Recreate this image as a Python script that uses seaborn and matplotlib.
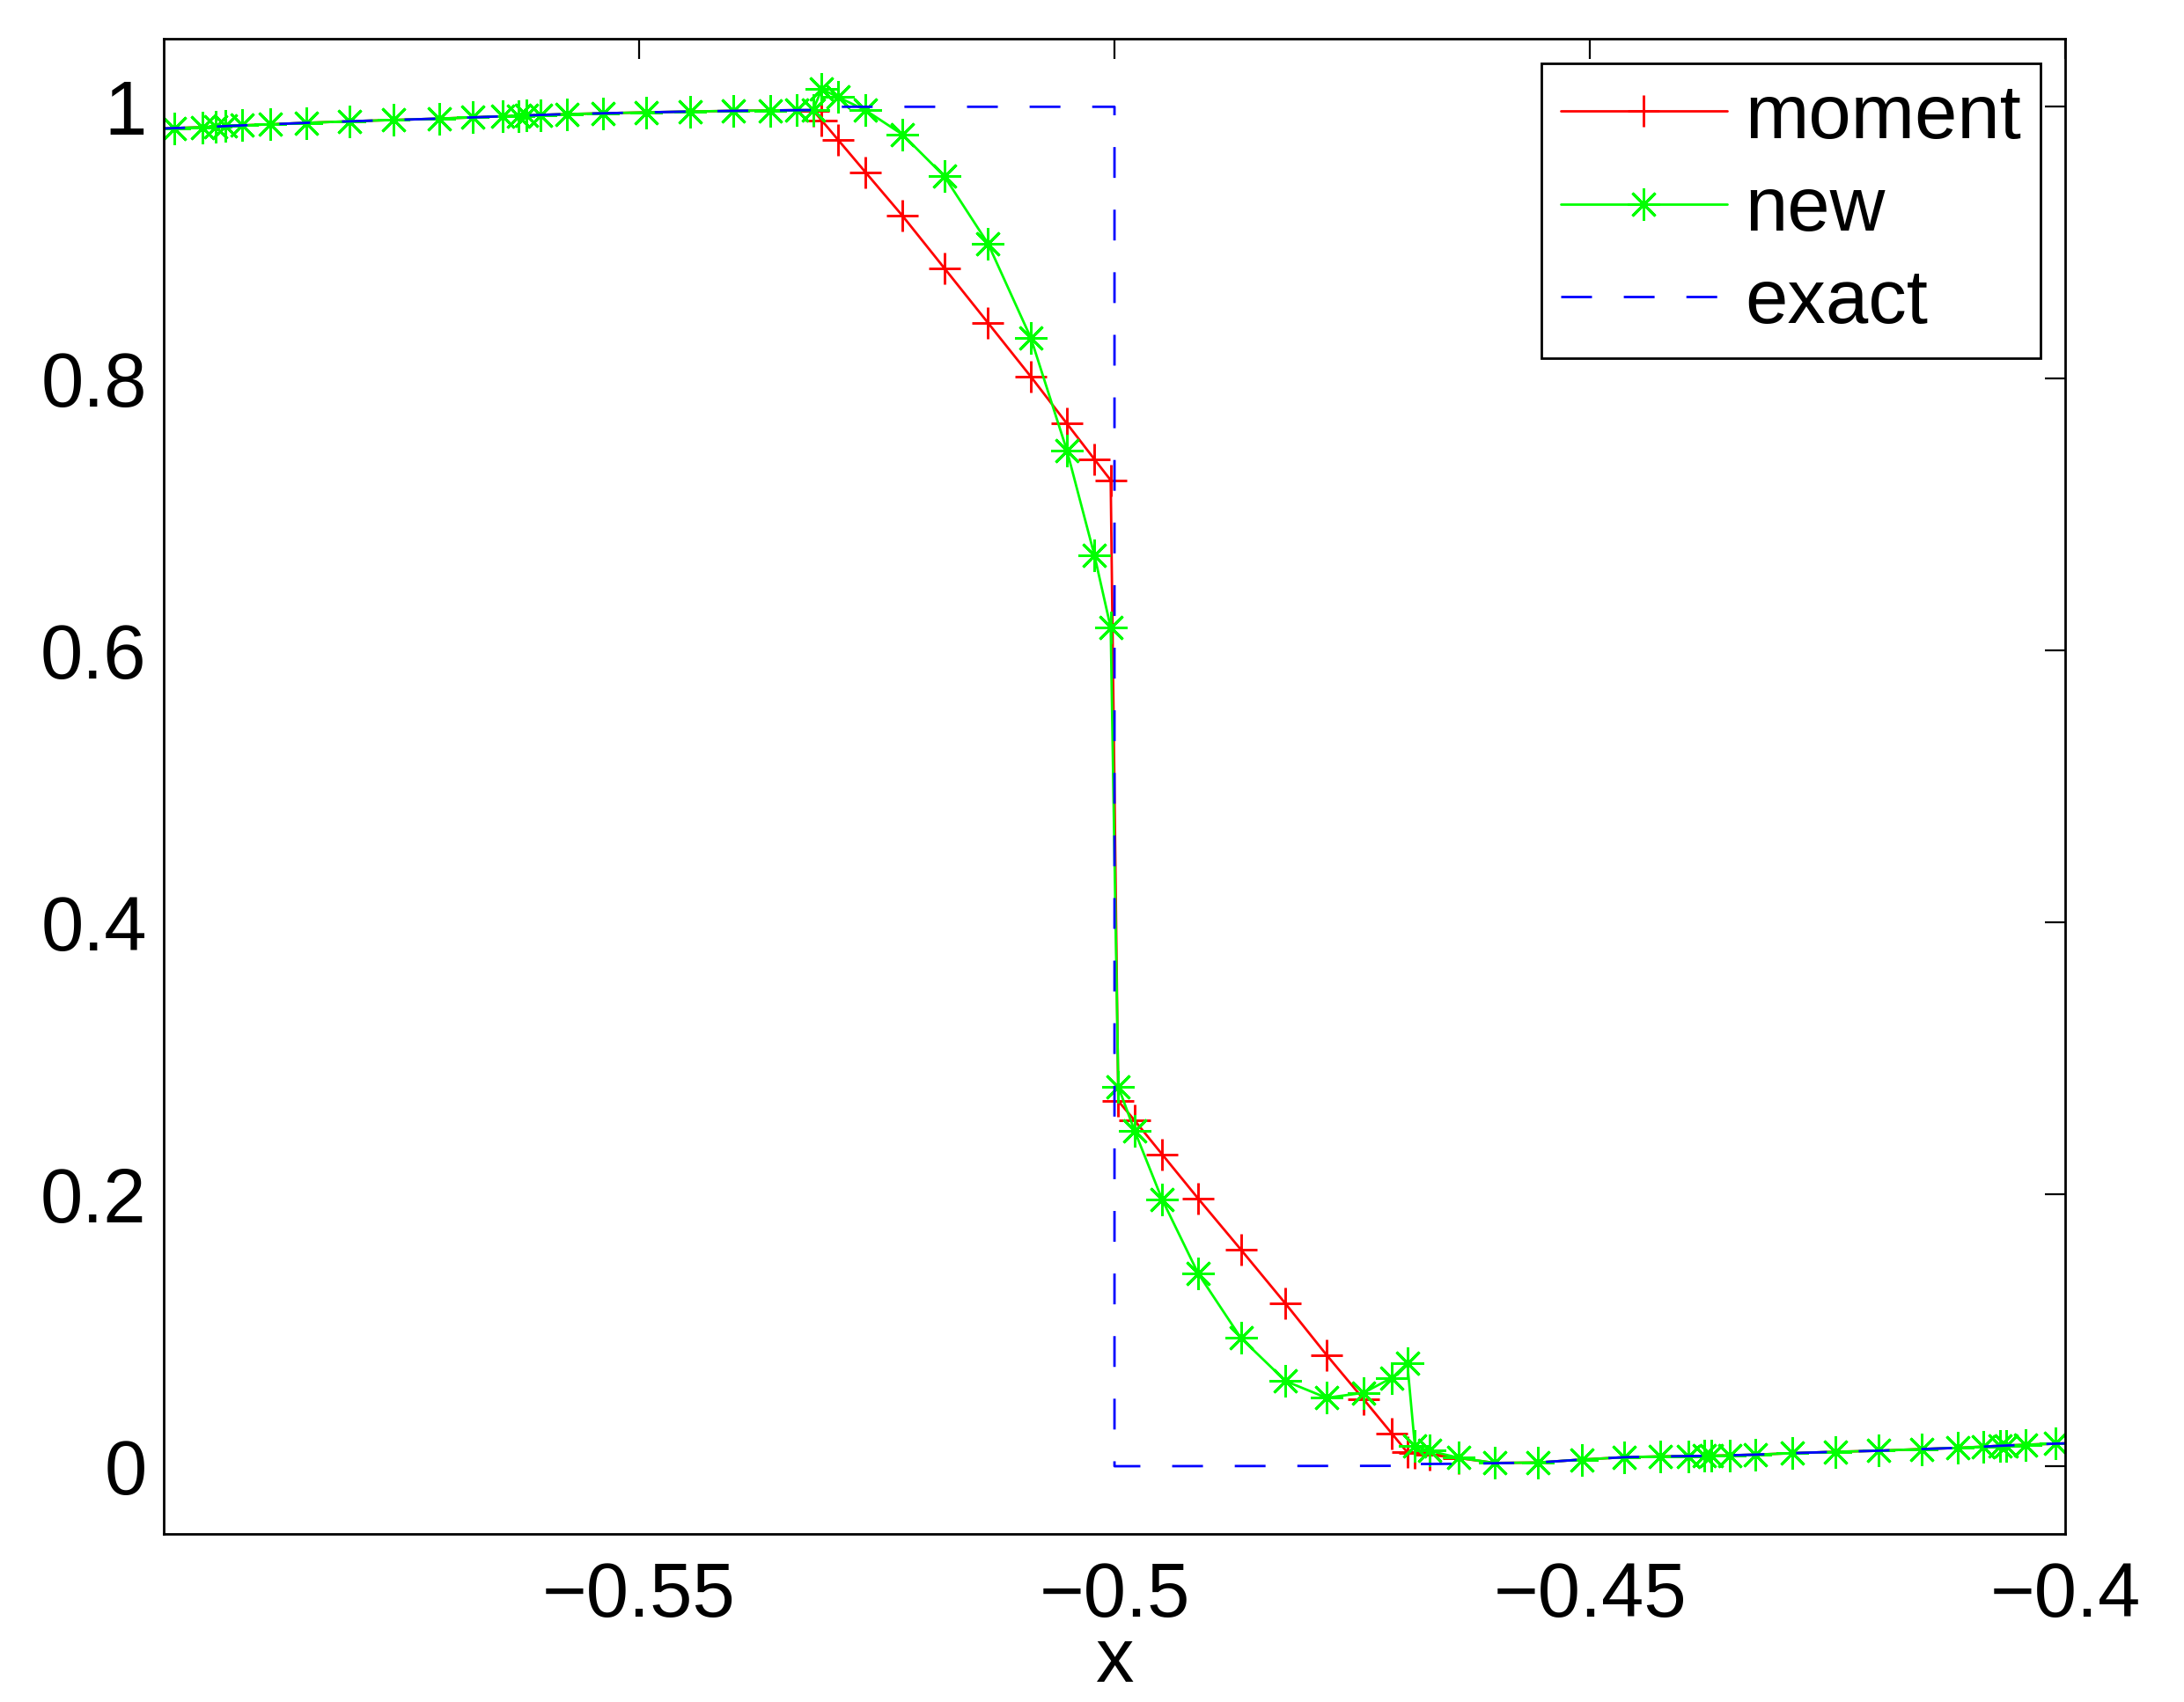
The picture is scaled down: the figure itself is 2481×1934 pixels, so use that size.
import numpy as np
import pandas as pd
import matplotlib
matplotlib.use("Agg")
import matplotlib.pyplot as plt
import seaborn as sns

# ---------------- data ----------------
x_new = [-0.6010, -0.5989, -0.5959, -0.5945, -0.5935, -0.5918, -0.5888, -0.5850,
         -0.5805, -0.5758, -0.5710, -0.5675, -0.5644, -0.5627, -0.5619, -0.5604,
         -0.5576, -0.5538, -0.5493, -0.5446, -0.5401, -0.5362, -0.5334, -0.5317,
         -0.5308, -0.5291, -0.5262, -0.5223, -0.5179, -0.5133, -0.5088, -0.5050,
         -0.5021, -0.5004, -0.4996, -0.4979, -0.4950, -0.4912, -0.4867, -0.4820,
         -0.4777, -0.4738, -0.4708, -0.4692, -0.4684, -0.4669, -0.4638, -0.4600,
         -0.4555, -0.4508, -0.4464, -0.4426, -0.4396, -0.4380, -0.4372, -0.4353,
         -0.4326, -0.4287, -0.4242, -0.4196, -0.4151, -0.4113, -0.4086, -0.4069,
         -0.4062, -0.4042, -0.4010, -0.3990]
y_new = [0.9838, 0.9843, 0.9850, 0.9855, 0.9858, 0.9863, 0.9871, 0.9882,
         0.9893, 0.9903, 0.9913, 0.9922, 0.9930, 0.9934, 0.9936, 0.9940,
         0.9946, 0.9952, 0.9959, 0.9965, 0.9970, 0.9973, 0.9975, 0.9976,
         1.0130, 1.0072, 0.9975, 0.9796, 0.9489, 0.8993, 0.8300, 0.7471,
         0.6698, 0.6169, 0.2792, 0.2470, 0.1964, 0.1418, 0.0943, 0.0626,
         0.0503, 0.0540, 0.0651, 0.0757, 0.0147, 0.0114, 0.0062, 0.0024,
         0.0027, 0.0049, 0.0066, 0.0072, 0.0074, 0.0076, 0.0077, 0.0080,
         0.0085, 0.0096, 0.0106, 0.0114, 0.0126, 0.0135, 0.0144, 0.0150,
         0.0152, 0.0158, 0.0166, 0.0170]

x_moment = x_new
y_moment = [0.9838, 0.9843, 0.9850, 0.9855, 0.9858, 0.9863, 0.9871, 0.9882,
            0.9893, 0.9903, 0.9913, 0.9922, 0.9930, 0.9934, 0.9936, 0.9940,
            0.9946, 0.9952, 0.9959, 0.9965, 0.9970, 0.9973, 0.9975, 0.9973,
            0.9900, 0.9759, 0.9519, 0.9198, 0.8813, 0.8410, 0.8015, 0.7669,
            0.7406, 0.7253, 0.2686, 0.2545, 0.2295, 0.1969, 0.1593, 0.1195,
            0.0819, 0.0493, 0.0238, 0.0102, 0.0095, 0.0085, 0.0060, 0.0024,
            0.0027, 0.0049, 0.0066, 0.0072, 0.0074, 0.0076, 0.0077, 0.0080,
            0.0085, 0.0096, 0.0106, 0.0114, 0.0126, 0.0135, 0.0144, 0.0150,
            0.0152, 0.0158, 0.0166, 0.0170]

x_exact = [-0.6010, -0.5989, -0.5959, -0.5918, -0.5888, -0.5850, -0.5805, -0.5758,
           -0.5710, -0.5675, -0.5644, -0.5604, -0.5576, -0.5538, -0.5493, -0.5446,
           -0.5401, -0.5362, -0.5334, -0.5317, -0.5310, -0.5000, -0.5000, -0.4684,
           -0.4684, -0.4638, -0.4600, -0.4555, -0.4508, -0.4464, -0.4426, -0.4380,
           -0.4326, -0.4287, -0.4242, -0.4196, -0.4151, -0.4113, -0.4069, -0.4042,
           -0.4010, -0.3990]
y_exact = [0.9838, 0.9843, 0.9850, 0.9863, 0.9871, 0.9882, 0.9893, 0.9903,
           0.9913, 0.9922, 0.9930, 0.9940, 0.9946, 0.9952, 0.9959, 0.9965,
           0.9970, 0.9973, 0.9975, 0.9976, 1.0000, 1.0000, 0.0000, 0.0003,
           0.0016, 0.0018, 0.0022, 0.0027, 0.0049, 0.0066, 0.0072, 0.0076,
           0.0085, 0.0096, 0.0106, 0.0114, 0.0126, 0.0135, 0.0150, 0.0158,
           0.0166, 0.0170]

series_labels = ["moment", "new", "exact"]
x_ticks = [-0.55, -0.5, -0.45, -0.4]
x_tick_labels = ["\u22120.55", "\u22120.5", "\u22120.45", "\u22120.4"]
y_ticks = [0, 0.2, 0.4, 0.6, 0.8, 1.0]
y_tick_labels = ["0", "0.2", "0.4", "0.6", "0.8", "1"]

# ---------------- style ----------------
sns.set_style("white")
plt.rcParams["font.family"] = ["Liberation Sans", "DejaVu Sans"]
plt.rcParams["axes.linewidth"] = 1.0
plt.rcParams["axes.edgecolor"] = "black"
plt.rcParams["text.color"] = "black"
plt.rcParams["axes.labelcolor"] = "black"
plt.rcParams["xtick.color"] = "black"
plt.rcParams["ytick.color"] = "black"

FS = 31.3
RED = (1, 0, 0)
GREEN = (0, 1, 0)
BLUE = (0, 0, 1)

fig = plt.figure(figsize=(12.405, 9.67), dpi=200)
ax = fig.add_axes([0.0750, 0.0986, 0.8706, 0.8786])

df_m = pd.DataFrame({"x": x_moment, "y": y_moment})
df_n = pd.DataFrame({"x": x_new, "y": y_new})
df_e = pd.DataFrame({"x": x_exact, "y": y_exact})

sns.lineplot(data=df_m, x="x", y="y", ax=ax, sort=False, estimator=None,
             color=RED, linewidth=1.0, marker="+", markersize=12.8,
             markeredgewidth=1.05, markeredgecolor=RED, markerfacecolor=RED,
             markevery=slice(1, -1), label=series_labels[0])
sns.lineplot(data=df_n, x="x", y="y", ax=ax, sort=False, estimator=None,
             color=GREEN, linewidth=1.0, marker=(8, 2, 0), markersize=13.2,
             markeredgewidth=1.05, markeredgecolor=GREEN, markerfacecolor=GREEN,
             markevery=slice(1, -1), label=series_labels[1])
sns.lineplot(data=df_e, x="x", y="y", ax=ax, sort=False, estimator=None,
             color=BLUE, linewidth=1.0, linestyle=(0, (12.6, 13)),
             label=series_labels[2])

ax.set_xlim(-0.6, -0.4)
ax.set_ylim(-0.05, 1.05)
ax.set_xticks(x_ticks)
ax.set_xticklabels(x_tick_labels)
ax.set_yticks(y_ticks)
ax.set_yticklabels(y_tick_labels)
ax.tick_params(direction="in", length=8.3, width=0.8, top=True, right=True,
               labelsize=FS, colors="black")
ax.tick_params(axis="x", pad=11)
ax.tick_params(axis="y", pad=7)
ax.set_xlabel("x", fontsize=FS, labelpad=-2.5)
ax.set_ylabel("")
for s in ax.spines.values():
    s.set_visible(True)
    s.set_color("black")
    s.set_linewidth(1.0)

leg = ax.legend(loc="upper right", fontsize=FS, frameon=True, fancybox=False,
                edgecolor="black", framealpha=1.0, handlelength=2.17,
                handletextpad=0.24, borderpad=0.25, labelspacing=0.28,
                borderaxespad=0.32, numpoints=1)
leg.get_frame().set_linewidth(1.0)
for t in leg.get_texts():
    t.set_color("black")

fig.savefig("out.png", dpi=200, facecolor="white")
